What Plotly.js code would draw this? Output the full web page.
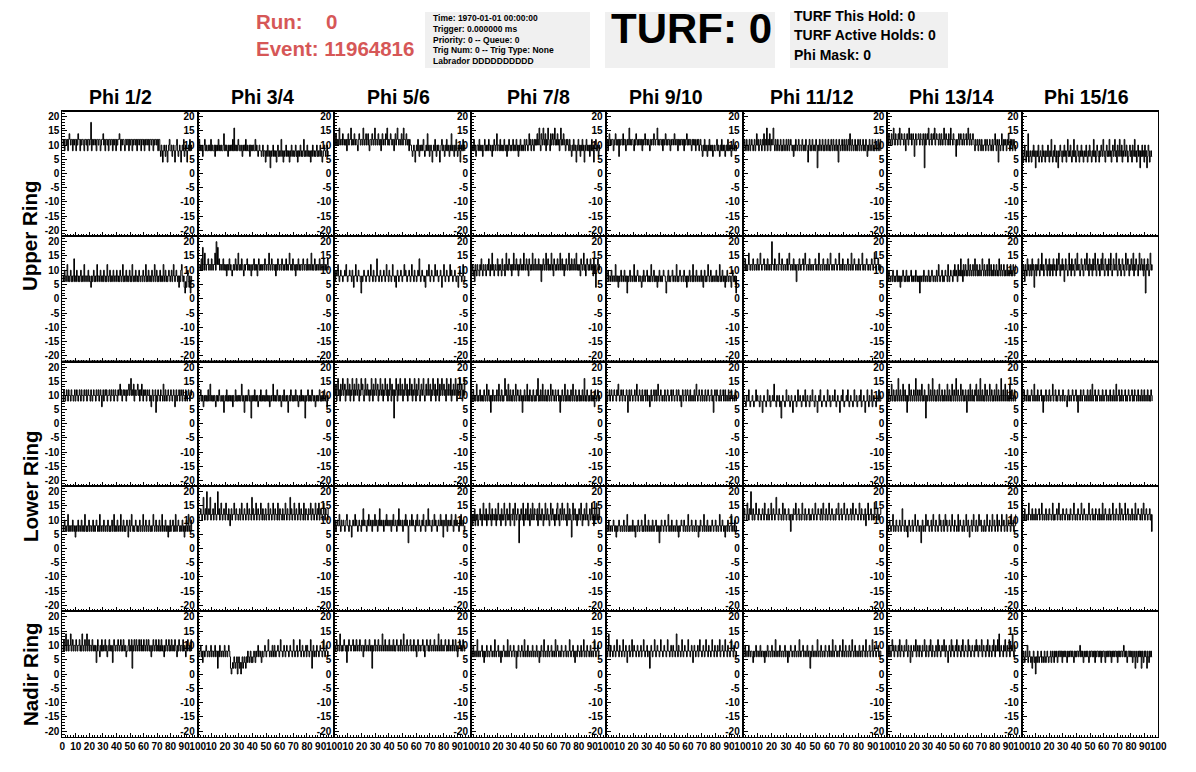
<!DOCTYPE html>
<html>
<head>
<meta charset="utf-8">
<script src="https://cdn.plot.ly/plotly-3.0.1.min.js"></script>
<style>
  html, body { margin: 0; padding: 0; background: #ffffff; }
  #display { width: 1196px; height: 772px; }
</style>
</head>
<body>
<div id="display"></div>
<script>
// Trigger-rate waveforms per phi sector: 192 samples per panel, two samples per x unit.
const phiLabels = ["Phi 1/2", "Phi 3/4", "Phi 5/6", "Phi 7/8", "Phi 9/10", "Phi 11/12", "Phi 13/14", "Phi 15/16"];
const ringLabels = ["Upper Ring", "Lower Ring", "Nadir Ring"];

const upperRingA = [
  [12,10,12,8,12,12,10,12,8,12,14,12,10,12,12,8, 12,10,12,12,8,12,10,14,12,12,8,12,10,12,12,10, 8,12,12,10,12,8,12,12,10,12,18,8,12,10,12,12, 10,12,8,12,12,10,12,12,8,10,12,12,14,10,12,8, 12,12,10,12,8,12,12,10,12,12,8,12,10,12,12,8, 12,10,12,12,14,12,8,12,10,12,12,10,8,12,12,10, 12,12,8,12,10,12,12,8,12,10,12,12,10,12,8,12, 12,10,12,12,8,12,12,10,12,8,12,10,12,12,10,12, 8,12,12,10,12,12,8,12,10,12,12,10,12,8,12,12, 8,6,10,8,4,8,10,8,6,10,8,4,8,10,12,8, 8,10,6,8,10,8,4,8,10,12,8,6,8,10,8,4, 8,10,8,12,6,8,10,8,4,8,10,8,12,8,10,8],
  [10,8,12,8,10,8,10,6,8,10,12,8,10,8,8,10, 8,10,8,12,8,10,8,8,10,6,10,8,10,8,12,8, 10,8,10,8,8,10,14,8,10,8,10,8,6,10,8,10, 8,10,8,12,8,16,8,10,8,10,8,12,10,8,8,10, 8,6,10,8,10,8,12,8,10,8,8,10,6,10,8,10, 8,10,8,8,12,8,10,8,6,8,10,8,8,6,8,10, 6,8,8,4,8,6,10,8,6,8,2,8,6,8,10,6, 8,6,8,4,8,10,6,8,6,8,12,6,8,4,8,6, 8,10,6,8,6,8,4,8,6,10,8,6,8,6,8,10, 6,8,4,8,6,8,10,6,8,6,8,12,6,8,6,8, 10,6,8,6,8,4,8,6,10,8,6,8,6,8,10,6, 8,6,8,10,6,8,4,6,8,10,8,6,8,10,6,8],
  [12,10,14,10,12,10,12,16,10,12,12,10,14,12,10,12, 10,12,8,12,14,10,12,12,16,10,12,10,12,14,10,12, 12,10,8,12,14,12,10,12,12,10,16,12,10,12,14,10, 12,14,10,8,12,12,10,14,12,10,12,16,10,12,12,10, 14,12,10,12,8,12,14,10,12,12,10,14,12,16,10,12, 10,12,14,12,10,12,12,8,12,14,10,12,16,12,10,12, 12,10,14,12,10,16,12,12,10,14,12,10,12,8,12,10, 10,8,6,8,10,8,4,8,10,8,12,8,6,10,8,10, 8,10,12,8,6,8,10,8,14,8,10,6,8,10,8,4, 8,10,8,12,8,6,10,8,10,8,4,8,10,12,8,10, 8,6,10,8,12,8,10,8,6,10,8,14,8,10,8,6, 10,8,12,8,6,10,8,10,4,8,10,8,12,8,10,8],
  [10,8,10,8,12,8,10,6,8,10,10,8,12,8,10,8, 10,6,8,10,12,8,10,8,10,8,12,10,8,10,8,6, 10,8,12,10,8,10,14,8,10,10,8,12,8,10,8,10, 8,12,10,8,10,6,10,8,12,10,8,10,8,10,12,8, 10,8,10,12,8,10,6,10,8,12,10,8,10,8,10,12, 8,10,12,10,8,10,14,10,12,8,10,12,10,8,12,10, 12,10,14,10,12,16,10,8,14,12,10,16,12,10,14,8, 12,10,16,12,10,8,14,10,12,14,10,12,16,10,12,10, 14,10,12,8,12,16,10,12,10,14,12,10,8,12,10,12, 10,8,12,10,8,6,10,8,12,10,8,10,4,8,10,12, 8,10,6,10,8,12,8,10,4,8,10,12,8,10,8,10, 6,10,8,12,8,10,4,8,10,12,8,10,8,6,10,8],
  [12,10,12,8,12,14,10,12,10,12,12,8,10,12,14,10, 12,10,12,6,12,10,12,12,10,14,10,12,12,8,10,12, 10,12,16,10,12,10,12,12,10,8,12,10,14,12,10,12, 10,12,12,10,12,8,12,10,12,14,10,12,12,10,12,10, 8,12,10,12,12,10,14,12,10,12,12,16,10,12,10,12, 12,10,12,8,12,10,12,14,10,12,10,12,12,10,8,12, 10,12,12,10,14,12,10,12,12,8,12,10,12,10,12,12, 10,12,8,12,10,12,14,10,12,10,12,12,10,8,12,10, 12,10,12,8,10,12,10,12,8,10,12,10,8,6,10,8, 12,8,10,8,6,10,8,12,8,10,8,10,6,8,10,8, 8,10,12,8,10,8,6,10,8,12,8,10,8,10,6,8, 10,8,12,8,10,8,10,6,8,10,12,8,10,8,8,10],
  [10,8,12,10,8,12,10,8,10,12,8,10,12,10,8,10, 12,8,10,14,10,12,8,10,12,10,8,12,10,14,8,12, 10,16,8,12,10,14,8,12,10,12,16,10,8,12,10,8, 12,10,8,10,12,8,10,8,12,10,8,10,12,8,10,12, 8,10,12,10,8,10,6,10,8,12,10,8,10,12,8,10, 10,8,12,10,8,10,8,12,10,8,4,10,12,8,10,8, 12,10,8,10,8,12,10,2,10,8,12,10,8,10,12,8, 10,8,12,10,8,10,12,8,10,8,12,10,8,12,10,8, 10,12,8,10,4,12,10,8,10,12,8,10,12,8,10,12, 8,10,12,8,14,10,8,12,10,8,10,12,8,10,8,12, 10,8,12,10,8,10,12,8,10,8,12,10,6,10,8,12, 10,8,10,12,8,10,8,12,10,8,10,12,8,10,12,8],
  [12,10,14,12,10,12,14,10,12,16,12,10,14,12,12,10, 14,12,16,10,12,14,12,12,10,14,12,8,12,14,12,10, 16,12,12,14,10,12,14,12,6,12,14,10,12,12,14,12, 10,14,12,12,10,14,12,2,14,10,12,14,12,16,10,12, 12,14,10,12,14,12,16,10,12,14,12,12,10,14,12,10, 14,12,10,12,16,12,10,14,12,12,10,14,12,10,16,12, 12,10,14,12,12,10,6,12,10,12,14,10,12,14,12,10, 12,14,10,12,12,14,10,12,16,12,10,14,12,10,12,14, 12,10,8,12,10,10,12,8,10,12,10,8,12,10,8,10, 10,12,8,10,12,10,8,10,12,10,8,10,12,8,10,12, 14,10,8,12,10,4,12,10,8,10,14,10,8,12,10,12, 10,8,12,10,14,10,8,12,10,12,8,10,12,10,8,10],
  [6,8,4,6,10,6,4,8,6,14,4,6,8,6,4,8, 6,10,6,8,2,6,8,6,10,4,6,8,6,4,10,6, 8,6,4,8,6,6,10,6,4,8,6,12,6,4,8,6, 10,6,4,8,6,2,8,6,10,8,6,4,8,6,10,6, 8,4,8,12,6,8,6,10,6,4,8,6,12,6,8,4, 6,10,8,6,4,8,6,10,6,8,4,6,8,6,10,6, 4,8,6,10,8,6,4,8,6,12,6,8,4,6,10,8, 6,4,8,6,10,8,6,12,8,6,4,8,10,6,8,6, 12,6,8,4,8,10,6,8,12,6,8,4,10,8,6,12, 8,6,10,4,8,6,12,8,6,10,8,4,6,8,10,6, 8,4,10,8,6,12,6,8,4,8,10,6,8,2,8,6, 10,6,8,4,10,6,8,2,6,10,8,4,6,8,6,6]
];

const upperRingB = [
  [6,8,6,10,8,6,8,12,6,8,6,8,10,6,8,6, 8,14,6,8,6,10,8,6,8,6,8,10,6,8,6,8, 12,6,8,8,6,8,10,6,8,6,4,8,6,8,10,6, 8,6,8,12,6,8,8,6,10,8,6,8,6,10,8,6, 8,6,12,8,6,8,10,6,8,6,8,10,6,8,8,6, 10,8,6,8,6,10,8,6,8,12,6,8,6,8,10,6, 8,6,8,10,6,8,6,12,8,6,8,6,10,8,6,8, 6,10,8,6,8,8,6,10,8,6,8,12,6,8,6,10, 8,6,8,6,10,8,6,8,12,6,8,10,6,8,6,8, 10,6,8,6,8,12,6,8,10,6,8,6,8,10,8,6, 8,10,6,8,12,8,6,8,10,8,6,8,4,8,6,10, 12,8,6,8,4,2,6,4,8,10,6,4,8,2,6,8],
  [12,10,12,12,10,14,10,18,12,10,16,12,10,12,12,14, 10,12,12,10,14,12,10,12,12,16,10,20,12,18,12,14, 10,12,12,10,12,14,10,12,10,12,8,12,10,12,14,10, 12,10,8,10,12,10,12,14,10,12,10,16,12,10,12,10, 14,12,10,8,12,10,12,12,14,10,12,10,12,10,8,12, 10,12,14,10,12,10,12,8,12,14,10,12,10,12,10,12, 12,10,14,12,10,12,12,10,16,12,10,12,14,10,12,12, 10,12,8,12,10,14,12,10,12,12,10,14,12,10,12,10, 12,14,10,12,10,12,16,12,10,12,10,14,12,10,12,8, 12,10,12,14,10,12,10,12,12,10,14,12,10,12,12,10, 14,10,12,12,10,12,16,10,12,10,12,14,10,12,10,12, 12,10,14,12,10,12,12,10,14,12,10,12,10,12,14,10],
  [8,6,10,8,8,12,8,6,8,10,8,8,6,8,8,10, 8,12,8,6,8,8,10,8,8,6,10,8,4,8,8,12, 8,6,8,10,8,8,6,2,8,6,8,10,8,8,6,8, 8,10,8,6,8,12,8,8,6,10,8,8,6,8,14,8, 8,6,8,10,8,6,8,8,10,8,6,8,12,8,8,6, 10,8,8,6,8,12,8,8,6,8,4,8,10,8,6,8, 8,10,8,6,8,8,12,8,10,8,6,8,8,10,8,6, 8,12,8,8,6,10,8,8,6,8,10,8,14,8,6,8, 10,8,8,6,8,4,8,10,8,8,12,8,6,8,10,8, 8,6,8,12,8,8,10,8,6,8,8,10,8,4,8,8, 12,8,6,8,10,8,8,6,8,12,8,10,8,6,8,8, 10,8,6,8,8,4,8,10,8,8,6,8,12,8,6,8],
  [8,10,12,8,10,6,12,10,8,12,10,10,8,12,10,14, 10,8,12,10,10,12,8,10,12,10,14,10,8,12,10,16, 10,12,8,10,12,10,10,14,8,12,10,12,10,8,14,10, 10,12,8,12,16,10,12,10,14,12,10,12,8,12,10,16, 12,10,12,14,10,12,8,12,10,14,12,10,12,10,16,12, 10,12,14,10,12,8,14,12,10,12,10,16,12,10,12,14, 10,12,12,10,14,12,10,12,6,12,10,14,12,10,12,16, 10,12,14,10,12,10,12,16,10,12,8,14,12,10,12,10, 14,12,10,12,16,10,12,14,10,12,8,12,10,14,12,10, 12,16,10,12,10,14,12,10,12,14,10,12,16,10,12,10, 12,10,8,14,12,10,12,16,10,12,8,10,14,12,10,12, 10,14,12,10,12,8,14,10,12,4,10,12,14,10,12,10],
  [8,6,8,10,6,8,8,6,10,8,6,8,8,6,12,8, 6,8,4,8,6,8,10,6,8,8,6,10,8,6,8,2, 8,6,8,10,6,8,8,6,8,12,6,8,6,8,10,8, 6,8,8,6,4,8,6,10,8,6,8,8,10,6,8,6, 8,6,12,8,6,8,10,6,8,6,8,4,8,6,10,8, 6,8,6,8,10,8,8,6,2,6,8,10,6,8,6,8, 8,10,6,8,8,6,8,12,6,8,6,8,10,8,6,8, 8,6,10,8,6,8,4,8,6,8,10,6,8,8,6,12, 6,8,8,6,10,8,6,8,8,6,8,10,6,8,4,8, 10,6,8,6,8,12,8,6,8,10,6,8,6,8,8,6, 8,10,6,8,6,8,12,6,8,6,10,8,6,8,4,8, 6,10,8,6,8,8,6,4,8,10,6,8,6,8,2,8],
  [12,10,12,14,10,12,10,12,16,12,10,12,12,10,14,12, 10,12,12,10,14,12,10,12,16,12,10,12,12,14,10,12, 12,10,14,12,10,12,12,10,20,12,12,10,14,12,10,12, 12,10,16,12,12,10,14,12,10,12,12,10,12,14,10,12, 16,12,10,12,12,10,14,12,10,12,6,12,12,10,14,12, 10,12,12,14,10,12,16,12,10,12,12,10,14,12,10,12, 12,10,12,12,14,10,12,12,10,16,12,10,12,12,10,14, 12,10,12,12,10,14,12,10,12,16,12,10,12,12,10,12, 14,12,10,12,12,16,10,12,12,10,14,12,10,12,12,10, 12,14,10,12,12,10,16,12,10,12,14,12,10,12,12,10, 14,12,10,12,12,16,10,12,12,10,12,14,12,10,12,12, 10,12,14,12,10,12,16,12,10,12,12,14,10,12,10,12],
  [8,6,10,8,6,8,8,6,10,8,6,8,6,8,10,6, 8,6,8,4,8,6,8,10,8,6,8,6,10,8,6,8, 6,8,8,10,6,8,6,8,8,6,10,8,6,8,6,8, 2,8,6,8,8,6,10,8,6,8,8,6,8,10,6,8, 6,8,10,8,6,8,8,6,8,10,6,8,12,8,6,8, 8,10,6,8,6,8,10,8,8,6,12,8,6,8,10,8, 8,6,10,8,12,8,10,8,6,12,8,10,8,14,8,10, 6,12,8,10,12,8,10,8,14,10,8,12,10,8,10,12, 8,10,14,8,10,12,8,10,8,12,10,8,10,14,10,8, 12,10,8,10,12,8,10,14,8,10,12,8,10,8,12,10, 8,10,12,8,10,8,14,10,8,12,10,8,10,12,8,10, 8,10,12,8,10,8,10,12,8,10,8,12,10,8,10,12],
  [10,8,12,10,6,12,10,8,14,10,12,8,10,12,8,14, 10,12,4,10,12,8,12,10,14,10,8,12,10,16,10,12, 8,10,12,14,10,8,12,10,14,8,12,10,12,8,14,10, 12,10,8,14,10,12,16,10,8,12,10,14,10,12,6,10, 14,12,10,8,12,16,10,12,8,14,10,12,10,8,14,12, 10,16,10,12,12,8,10,14,12,10,8,12,14,10,12,16, 10,12,8,14,12,10,12,8,14,10,12,16,10,8,12,14, 10,12,8,12,14,10,16,12,10,8,14,12,10,12,8,14, 12,10,16,12,8,10,14,12,10,12,16,10,8,12,14,10, 12,8,10,14,12,10,8,12,16,10,12,14,10,8,12,10, 14,12,10,16,8,12,10,14,12,10,8,12,16,10,12,14, 10,12,8,14,10,2,12,10,14,12,8,10,16,12,10,12]
];

const lowerRingA = [
  [10,8,12,10,8,10,12,10,8,12,10,10,8,12,10,10, 8,10,12,8,10,12,10,8,10,12,10,8,12,10,10,8, 12,10,10,12,8,10,12,10,10,8,12,10,8,10,12,10, 10,8,12,10,10,12,8,10,12,10,6,10,12,8,10,12, 10,12,8,10,10,12,10,8,12,10,10,12,8,10,12,10, 10,8,12,10,12,14,10,12,8,10,12,10,12,10,8,12, 10,12,14,10,12,16,10,12,10,14,8,12,10,10,12,14, 10,12,8,12,10,14,10,8,12,10,12,10,8,12,10,10, 12,8,10,6,10,12,8,10,10,12,4,10,8,12,10,10, 8,12,10,10,8,14,10,8,12,10,8,10,12,10,8,10, 12,10,8,10,12,10,6,10,12,8,10,10,12,8,10,12, 10,8,12,10,10,8,12,10,8,10,12,10,8,10,12,10],
  [10,8,8,10,12,8,10,8,6,10,8,10,8,10,8,12, 8,10,14,8,10,8,10,8,10,8,6,10,8,10,8,12, 10,8,8,10,8,10,4,8,10,8,12,8,10,8,10,8, 10,8,10,6,10,8,8,12,8,10,8,10,8,10,8,10, 14,8,10,8,4,10,8,10,8,10,12,8,10,8,2,10, 8,10,8,12,8,10,8,10,6,8,10,8,12,8,10,8, 10,8,10,8,12,8,10,8,10,6,8,10,8,10,14,8, 10,8,10,8,12,10,8,10,8,10,6,8,10,8,12,8, 8,10,8,10,4,8,10,8,12,10,8,10,8,10,8,12, 10,8,10,6,8,10,8,12,8,10,8,10,8,2,10,8, 10,12,8,10,8,10,8,12,10,8,10,8,6,10,8,10, 8,10,12,8,10,8,10,8,10,12,8,10,8,6,10,8],
  [12,10,14,8,12,16,10,12,8,14,10,12,16,10,12,14, 8,12,10,16,12,10,14,8,12,10,16,12,8,14,10,12, 16,10,12,14,8,12,10,16,12,14,10,8,12,16,10,12, 14,10,12,8,12,10,16,12,8,14,10,12,16,10,12,14, 8,12,10,16,12,10,14,8,12,10,16,12,10,14,8,12, 10,16,12,8,14,10,12,2,12,10,16,12,8,14,10,12, 16,10,12,14,8,12,10,16,12,10,14,8,12,10,16,12, 10,14,8,12,10,16,12,8,14,10,12,16,10,8,12,14, 10,12,16,10,8,12,14,10,12,16,10,12,14,8,12,10, 16,12,10,14,8,12,10,16,12,8,14,10,12,16,10,12, 14,10,12,8,16,12,10,14,12,10,16,8,12,10,14,12, 10,16,12,8,14,10,12,16,10,12,14,8,12,10,16,10],
  [10,8,10,12,8,10,8,10,14,8,10,8,10,12,8,10, 8,10,8,12,10,8,10,14,8,10,12,8,10,4,10,8, 12,10,8,10,10,8,12,10,8,14,10,8,10,12,8,10, 8,10,16,10,12,8,10,14,8,10,12,8,10,8,12,10, 8,10,14,8,10,12,10,8,10,12,8,10,4,10,8,12, 10,8,10,14,8,10,8,12,10,8,10,8,12,10,8,10, 8,12,10,16,8,10,8,12,10,8,14,10,8,10,12,8, 10,8,12,10,8,10,14,8,10,12,10,8,10,12,8,10, 10,12,8,10,4,10,8,12,10,8,10,14,8,10,8,12, 10,8,10,8,12,10,8,14,10,8,10,12,8,10,8,10, 12,8,10,8,10,12,8,10,16,8,10,8,12,10,8,10, 8,10,12,8,10,8,10,6,12,10,8,10,12,8,10,8],
  [10,12,8,10,10,12,8,10,12,10,8,10,12,10,10,8, 12,10,14,10,8,10,12,10,8,12,10,10,8,10,12,10, 4,10,12,8,10,12,10,8,10,10,12,8,10,14,10,8, 10,12,10,8,10,12,8,10,10,12,8,10,12,8,10,10, 6,10,12,8,10,10,12,8,10,12,8,10,14,10,8,10, 12,10,8,10,10,8,12,10,8,10,12,10,8,10,10,12, 8,10,12,10,8,10,10,12,8,10,12,10,8,10,6,10, 12,8,10,10,12,8,10,12,10,8,10,12,8,10,10,8, 10,12,8,10,14,10,8,10,12,10,8,10,12,8,10,10, 8,12,10,8,10,12,10,8,10,10,12,8,10,4,10,12, 10,8,12,10,10,8,10,12,8,10,10,12,8,10,12,8, 10,10,8,12,10,8,10,12,10,8,10,10,8,12,10,8],
  [8,10,8,8,6,10,8,8,12,8,6,8,8,10,8,6, 8,8,12,8,10,8,8,6,10,8,8,4,8,10,8,8, 6,8,12,8,8,10,6,8,8,10,8,14,8,8,6,10, 8,8,10,6,8,2,8,10,8,8,6,8,12,8,8,10, 8,6,8,10,8,4,8,8,10,8,6,8,12,8,8,10, 8,6,8,10,8,8,12,6,8,10,8,8,6,10,8,8, 12,8,8,6,10,8,8,4,8,10,8,12,8,6,8,8, 10,8,8,6,8,12,8,8,10,6,8,8,10,8,8,12, 8,6,8,10,8,8,4,8,10,8,12,8,6,8,8,10, 8,12,8,6,8,10,8,8,6,8,12,8,8,10,6,8, 8,10,8,12,6,8,8,10,8,4,8,8,12,8,6,10, 8,8,12,6,8,10,8,8,6,10,8,8,12,8,8,10],
  [10,8,12,10,8,10,14,8,10,12,8,10,8,12,10,8, 16,10,8,12,10,8,10,14,8,10,12,8,10,4,10,8, 14,10,8,12,10,8,10,12,8,10,16,8,10,12,8,10, 12,8,10,14,8,10,8,12,10,2,10,8,10,14,8,10, 12,8,10,16,8,10,12,8,10,8,12,10,8,14,10,8, 10,12,8,10,8,12,10,8,10,14,8,10,12,8,10,8, 14,10,8,12,10,8,16,10,8,12,10,8,10,14,8,10, 12,8,10,8,12,10,4,10,12,8,10,14,8,10,12,8, 10,8,12,10,14,8,10,12,8,10,16,8,10,12,8,10, 8,14,10,8,12,10,8,10,14,8,10,12,8,10,8,12, 10,8,14,10,8,12,10,8,10,16,8,10,12,8,10,14, 8,10,12,8,10,8,14,10,8,12,10,8,10,12,8,10],
  [10,8,10,12,8,10,10,8,12,10,8,10,8,10,12,10, 8,10,14,8,10,10,8,12,10,8,10,10,12,8,10,4, 10,8,10,12,8,10,10,8,12,10,8,10,10,14,8,10, 10,12,8,10,8,10,12,10,8,10,10,8,12,10,8,10, 10,8,6,10,12,8,10,10,8,10,12,10,8,10,10,12, 8,10,4,10,10,8,12,10,8,10,12,10,8,10,10,8, 12,10,8,10,12,8,10,14,8,10,10,12,8,10,8,10, 12,10,8,10,10,8,12,10,8,10,10,12,8,10,10,8, 10,12,8,10,10,8,12,10,8,10,14,8,10,10,12,8, 10,8,12,10,8,10,10,12,8,10,8,10,12,10,8,10, 10,12,8,10,8,12,10,10,8,10,12,8,10,10,8,12, 10,8,10,12,8,10,10,8,12,10,8,10,8,12,10,8]
];

const lowerRingB = [
  [8,6,8,10,6,8,6,8,12,6,8,6,8,8,6,10, 8,6,8,4,8,6,8,10,6,8,8,6,10,8,6,8, 6,12,8,6,8,6,8,10,6,8,8,6,8,10,6,8, 6,8,10,8,6,8,6,12,8,6,8,8,6,10,8,6, 8,8,6,10,8,6,8,6,8,10,6,8,12,6,8,6, 8,10,6,8,8,6,12,8,6,8,10,6,8,6,8,10, 8,4,8,10,6,8,12,8,6,8,6,8,10,8,6,8, 6,8,10,6,8,8,6,12,8,6,8,10,6,8,8,6, 10,8,6,8,6,8,12,8,6,8,10,6,8,8,6,10, 8,6,8,12,6,8,8,6,10,8,6,8,4,8,6,10, 6,8,8,10,6,8,6,12,8,6,8,10,8,6,8,6, 8,10,6,8,4,8,6,10,8,6,12,8,6,8,10,6],
  [12,10,12,12,14,12,10,12,18,12,10,14,12,20,10,12, 14,12,18,10,12,12,14,10,12,16,12,10,12,20,12,14, 10,12,16,12,10,12,14,12,10,16,12,12,10,14,12,8, 12,14,10,12,12,16,12,10,14,12,12,10,12,14,10,12, 16,12,10,12,14,12,10,12,16,12,10,14,12,12,10,18, 12,14,10,12,12,16,10,12,14,12,10,12,16,12,10,14, 12,10,12,14,10,12,12,16,10,12,14,12,10,12,16,12, 10,14,12,12,10,16,12,10,14,12,12,10,14,12,10,12, 16,12,10,14,12,12,10,18,12,14,10,12,12,16,10,12, 14,12,10,12,16,12,10,14,12,12,10,16,12,10,14,12, 12,10,14,12,12,16,10,12,14,12,10,12,16,12,10,14, 12,16,10,12,14,12,10,12,16,12,10,14,12,12,10,14],
  [8,10,6,8,10,8,8,12,8,6,10,8,8,10,8,6, 8,10,12,8,8,6,10,8,8,4,8,10,8,8,12,8, 10,8,6,8,10,8,8,6,10,8,14,8,10,8,8,6, 10,8,12,8,8,10,8,6,10,8,8,12,8,10,8,6, 10,8,14,8,10,8,8,10,6,8,10,8,12,8,10,8, 8,10,8,6,10,8,12,8,8,10,8,6,10,8,14,8, 10,8,8,10,6,8,10,8,12,8,10,8,2,8,10,8, 8,12,8,10,8,8,6,10,8,12,8,8,10,8,6,8, 10,8,12,8,8,6,10,8,8,14,8,10,8,8,6,10, 8,8,12,8,10,8,6,8,10,8,8,12,8,10,8,4, 10,8,8,12,8,6,10,8,8,10,8,12,8,8,6,10, 8,12,8,10,8,8,6,10,8,12,8,8,10,8,6,8],
  [10,12,8,12,10,14,8,12,10,12,8,10,12,14,10,12, 8,12,16,10,12,10,14,8,12,10,12,16,10,12,8,14, 10,12,12,10,14,8,12,10,16,12,10,12,8,14,10,12, 10,16,12,8,12,14,10,12,10,16,8,12,12,10,14,12, 8,16,12,10,12,14,10,2,12,10,14,12,10,16,8,12, 10,14,12,10,16,10,12,8,14,12,10,16,12,10,14,12, 12,10,14,8,12,16,10,12,10,14,12,8,12,10,16,12, 10,14,12,10,8,12,16,10,12,14,10,12,8,12,10,14, 16,10,12,8,14,12,10,16,12,10,14,12,10,12,8,16, 12,10,14,12,10,4,12,16,10,12,14,10,12,8,12,10, 14,12,10,16,12,8,12,10,14,12,10,16,12,10,8,12, 14,10,12,16,10,12,8,14,12,10,16,12,10,12,14,10],
  [6,8,8,6,10,8,6,8,8,6,8,10,8,6,8,4, 8,6,8,10,8,6,8,8,6,8,10,6,8,8,6,12, 8,6,8,6,8,8,6,10,8,6,8,4,8,8,6,10, 8,6,8,8,10,6,8,6,8,12,6,8,8,6,10,8, 6,8,8,6,10,8,6,8,8,10,6,8,6,8,2,8, 6,10,8,8,6,8,10,8,6,8,8,12,6,8,8,6, 10,8,6,8,8,6,8,10,6,8,4,8,6,8,10,8, 8,6,10,8,6,8,8,6,12,8,6,8,8,10,6,8, 8,6,8,10,6,8,8,4,8,6,10,8,8,6,8,12, 6,8,8,6,10,8,6,8,8,6,8,10,8,6,8,8, 10,6,8,8,6,8,12,8,6,8,10,8,6,8,4,8, 8,6,10,8,6,8,8,12,6,8,8,6,10,8,6,8],
  [12,10,14,12,12,10,16,12,10,14,12,20,12,10,14,12, 10,12,16,12,12,10,14,12,12,10,12,14,12,10,16,12, 12,10,12,14,10,12,12,16,10,12,14,12,10,12,18,12, 12,10,14,12,12,10,12,16,10,12,14,12,10,12,12,14, 10,12,6,12,12,10,14,12,12,16,10,12,12,14,10,12, 12,10,16,12,12,10,14,12,10,12,12,14,10,12,10,12, 14,12,10,12,16,12,10,12,14,12,12,10,14,12,10,16, 12,12,10,14,12,10,12,16,12,10,12,14,12,10,12,12, 10,14,12,12,16,10,12,12,14,10,12,12,16,12,10,12, 14,12,10,12,12,14,10,12,16,12,10,12,14,12,12,10, 12,16,12,10,14,12,12,10,12,14,8,12,12,16,10,12, 12,14,10,12,12,10,16,12,12,10,14,12,10,12,12,14],
  [8,6,8,10,8,6,8,8,12,6,8,8,6,10,8,8, 6,8,10,8,6,8,14,8,8,6,10,8,6,8,4,8, 10,8,6,8,8,10,6,8,8,12,8,6,8,10,8,6, 8,8,2,8,10,6,8,8,6,12,8,8,10,8,6,8, 8,10,6,8,12,8,8,6,10,8,8,6,8,12,8,10, 6,8,8,10,6,8,12,8,10,6,8,8,10,8,6,8, 12,8,8,6,10,8,8,6,8,12,6,8,10,8,8,6, 8,10,6,8,8,12,8,6,10,8,4,8,8,10,6,8, 12,8,8,6,10,8,6,8,12,8,8,10,6,8,8,6, 10,8,6,8,12,8,8,6,10,8,8,6,12,8,8,10, 6,8,8,12,6,8,10,8,8,6,12,8,8,10,6,8, 8,12,6,8,10,8,8,6,12,8,8,10,6,8,8,12],
  [10,12,12,10,14,12,10,12,12,10,16,12,12,10,12,14, 10,12,12,10,14,12,10,12,12,14,10,12,12,16,10,12, 12,10,12,14,10,12,12,10,14,12,12,10,12,16,10,12, 10,12,12,14,10,12,16,12,10,12,12,10,14,12,12,10, 12,14,12,10,12,12,10,14,12,12,10,12,16,12,10,12, 12,10,14,12,12,10,12,16,12,10,12,14,12,10,12,12, 10,12,16,12,10,12,12,14,10,12,12,10,14,12,12,10, 12,14,10,12,12,10,16,12,10,12,14,12,10,12,12,10, 14,12,10,12,12,16,10,12,12,10,14,12,12,10,12,16, 10,12,14,12,10,12,12,16,10,12,12,14,10,12,12,10, 12,14,10,12,12,10,16,12,10,12,14,12,12,10,12,14, 10,12,16,12,10,12,14,12,10,12,12,14,10,12,6,12]
];

const nadirRing = [
  [10,8,12,8,10,14,8,10,12,8,10,10,14,8,10,12, 8,10,10,8,12,10,8,10,10,12,8,10,8,14,10,8, 10,12,8,10,14,8,10,12,8,10,10,8,12,10,8,10, 8,10,4,8,12,10,8,6,10,8,12,8,10,8,10,12, 8,10,6,8,10,12,8,10,8,10,4,8,12,10,8,10, 10,8,12,10,8,10,12,8,10,8,12,10,8,10,6,8, 8,10,12,8,10,8,12,2,10,8,12,10,8,12,10,8, 10,12,8,10,12,8,10,8,12,10,8,10,12,8,10,12, 8,10,8,6,10,8,12,10,8,10,12,8,10,8,12,8, 10,8,12,8,10,8,6,10,8,12,10,8,10,12,8,10, 8,12,10,8,10,8,12,10,8,6,10,8,12,10,8,10, 10,8,12,8,10,8,6,10,8,12,10,8,10,8,12,8],
  [8,6,8,8,10,6,8,4,8,8,6,8,10,8,6,8, 8,6,8,10,6,8,8,6,8,10,6,8,8,2,8,6, 10,8,6,8,8,6,8,10,6,8,8,6,8,10,8,6, 2,0,2,4,2,6,4,2,4,6,0,4,6,2,4,0, 4,6,2,4,6,4,2,6,4,8,6,4,6,8,4,6, 4,6,8,6,4,8,6,8,10,6,8,8,6,4,8,6, 6,8,10,8,6,8,8,12,8,6,8,8,6,10,8,6, 10,8,6,8,8,10,8,6,8,12,8,8,6,8,10,8, 6,8,10,8,8,6,8,10,8,8,6,8,12,8,6,8, 8,10,6,8,8,12,8,6,8,10,8,6,8,8,10,6, 10,8,8,6,8,12,8,2,8,10,6,8,8,6,10,8, 8,6,8,10,8,8,6,8,12,8,6,8,10,8,6,8],
  [10,8,10,12,8,10,10,8,14,10,8,10,8,10,12,10, 8,10,4,10,8,12,10,10,8,10,10,12,8,10,8,10, 12,8,10,10,8,12,10,8,10,10,6,10,8,12,10,8, 10,10,8,12,10,8,10,2,10,8,10,12,8,10,10,8, 12,10,8,10,10,8,14,10,8,10,12,8,10,10,8,10, 12,8,10,10,8,10,12,8,10,8,10,12,10,8,10,10, 8,12,10,8,10,14,8,10,10,8,12,10,8,10,10,12, 8,10,10,8,12,10,8,10,6,10,12,8,10,10,8,10, 10,12,8,10,6,8,10,12,10,8,10,8,12,10,8,10, 10,8,12,10,8,10,10,8,14,10,8,10,12,8,10,10, 8,10,12,10,8,10,8,12,10,8,10,10,8,12,10,8, 10,12,8,10,6,8,10,12,10,8,10,8,12,10,8,10],
  [8,6,8,10,6,8,8,6,8,12,6,8,8,6,8,8, 10,6,8,4,8,6,8,10,6,8,8,6,8,10,8,6, 8,8,6,12,8,6,8,8,10,6,8,8,4,8,6,8, 10,8,6,8,8,6,12,8,6,8,10,8,6,8,8,10, 6,8,8,2,8,6,10,8,8,6,8,10,8,6,8,12, 6,8,8,6,10,8,6,8,8,6,8,10,6,8,8,6, 8,10,6,8,8,4,8,6,10,8,8,6,12,8,6,8, 8,6,10,8,6,8,8,10,6,8,8,6,8,12,6,8, 10,8,6,8,8,6,10,8,8,6,8,8,10,6,8,8, 6,8,12,8,6,8,8,10,6,8,4,8,8,6,10,8, 8,6,8,10,6,8,8,12,6,8,8,6,10,8,8,6, 8,10,6,8,8,6,8,12,8,6,8,8,10,6,8,8],
  [8,10,6,8,14,8,6,10,8,8,6,8,10,8,6,8, 12,8,8,6,10,8,8,6,8,12,8,6,8,10,8,4, 8,8,10,6,8,8,12,6,8,10,8,8,6,8,10,8, 6,8,8,10,6,8,8,12,8,6,8,8,10,6,8,8, 2,8,10,8,6,8,8,12,8,6,8,10,8,8,6,8, 12,8,8,6,8,10,8,8,6,8,12,8,8,6,8,10, 8,6,10,8,8,6,8,14,8,6,10,8,8,6,8,12, 8,6,8,10,8,8,6,8,12,8,8,6,8,10,8,4, 8,10,8,6,8,8,10,6,8,12,8,8,6,8,10,8, 6,8,12,8,8,6,10,8,8,6,8,12,8,8,6,10, 8,8,6,10,8,8,12,6,8,8,10,8,6,8,12,8, 8,6,10,8,8,6,8,12,8,8,6,10,8,8,6,8],
  [8,6,8,10,6,8,8,6,10,8,6,8,8,6,4,8, 6,8,10,6,8,8,6,8,10,6,8,8,6,8,4,8, 6,8,10,6,8,8,6,8,10,6,8,8,6,12,8,6, 8,8,6,10,8,6,8,8,6,8,10,6,8,8,4,8, 6,8,10,8,6,8,8,6,10,8,6,8,8,6,12,8, 6,8,8,10,6,8,8,6,8,10,6,8,8,2,8,6, 10,8,6,8,8,6,8,12,6,8,8,6,10,8,6,8, 8,6,10,8,8,6,8,10,6,8,8,6,12,8,6,8, 10,8,6,8,8,6,10,8,8,6,12,8,6,8,10,6, 8,8,6,10,8,6,8,12,8,6,8,10,6,8,8,6, 8,10,6,8,8,6,10,8,8,6,12,8,6,8,8,10, 6,8,8,12,6,8,10,8,6,8,8,10,6,8,8,6],
  [8,10,6,10,8,6,8,12,8,10,6,8,10,8,8,6, 10,8,12,6,8,10,8,8,6,10,8,8,12,8,6,10, 8,8,4,10,8,6,8,10,8,8,12,6,8,10,8,6, 10,8,8,6,10,8,8,12,8,6,10,8,8,6,10,8, 12,8,6,10,8,8,6,8,10,8,6,12,8,10,8,6, 8,10,8,8,12,8,6,10,8,8,4,8,10,8,6,12, 8,10,8,6,8,10,8,12,6,8,10,8,8,6,10,8, 12,8,6,8,10,8,8,6,12,8,10,8,6,8,10,8, 8,6,10,8,12,8,10,6,8,10,8,8,12,6,8,10, 8,8,6,10,8,12,8,6,10,8,8,6,10,8,12,8, 6,10,8,8,12,8,14,6,8,10,8,8,6,10,8,12, 8,6,10,8,8,12,6,8,10,8,14,8,6,10,8,8],
  [6,4,8,6,4,8,6,6,10,4,6,8,6,4,6,2, 6,8,4,6,0,6,4,8,6,4,6,6,8,4,6,6, 4,8,6,4,6,8,6,4,6,6,8,4,6,8,6,4, 8,6,8,6,4,8,6,8,8,6,8,4,8,6,8,6, 8,6,4,8,6,8,6,8,8,6,8,6,4,8,6,8, 6,8,8,6,8,10,6,8,6,8,4,6,8,6,8,6, 8,6,4,8,6,8,8,6,8,6,8,4,8,6,8,8, 6,8,6,8,4,8,6,8,8,6,4,8,6,8,6,8, 8,6,8,4,8,6,8,6,8,8,6,8,4,8,6,8, 6,8,8,6,8,10,6,8,6,8,4,6,8,8,6,8, 6,8,4,6,8,6,2,8,6,4,8,6,8,6,8,2, 8,6,4,8,6,8,6,2,8,6,4,8,6,8,6,6]
];

const xTickValues = [0, 10, 20, 30, 40, 50, 60, 70, 80, 90, 100];
const xTickText = ["0", "10", "20", "30", "40", "50", "60", "70", "80", "90", "100"];
const yTickValues = [-20, -15, -10, -5, 0, 5, 10, 15, 20];
const yTickText = ["-20", "-15", "-10", "-5", "0", "5", "10", "15", "20"];

// ---- page geometry (pixels) ----
const W = 1196, H = 772;
const colEdges = [62.3, 197.7, 334.3, 471, 605.7, 742.7, 887.3, 1021.7, 1158.3];
const rowEdges = [111, 236, 361.5, 486, 611, 737];
const titleCenters = [120, 262, 398, 538, 666, 812, 951, 1086];

const panelRows = [upperRingA, upperRingB, lowerRingA, lowerRingB, nadirRing];
const fontFamily = '"Liberation Sans", Arial, Helvetica, sans-serif';
const px = v => v / W;
const py = v => 1 - v / H;

const data = [];
const layout = {
  width: W, height: H,
  margin: { l: 0, r: 0, t: 0, b: 0 },
  paper_bgcolor: '#ffffff',
  plot_bgcolor: '#ffffff',
  showlegend: false,
  hovermode: false,
  font: { family: fontFamily, color: '#000000' },
  shapes: [],
  annotations: []
};

panelRows.forEach((row, r) => {
  row.forEach((series, c) => {
    const k = r * 8 + c + 1;
    const sfx = k === 1 ? '' : String(k);
    const samplePos = series.map((_, i) => i / 2);
    data.push({
      type: 'scatter', mode: 'lines',
      x: samplePos, y: series,
      xaxis: 'x' + sfx, yaxis: 'y' + sfx,
      line: { shape: 'hv', color: '#000000', width: 1 },
      hoverinfo: 'skip'
    });
    const bottomRow = r === panelRows.length - 1;
    layout['xaxis' + sfx] = {
      domain: [px(colEdges[c]), px(colEdges[c + 1])],
      anchor: 'y' + sfx,
      range: [0, 100],
      showgrid: false, zeroline: false,
      showline: true, mirror: true, linecolor: '#000000', linewidth: 1,
      ticks: 'inside', ticklen: 4, tickwidth: 1, tickcolor: '#000000',
      tickmode: 'array',
      tickvals: c === 0 ? xTickValues : xTickValues.slice(1),
      ticktext: c === 0 ? xTickText : xTickText.slice(1),
      tickangle: 0,
      minor: { ticks: 'inside', ticklen: 2, tickmode: 'linear', tick0: 0, dtick: 2, tickcolor: '#000000' },
      showticklabels: bottomRow,
      tickfont: { family: fontFamily, size: 10, weight: 'bold', color: '#000000' },
      fixedrange: true
    };
    layout['yaxis' + sfx] = {
      domain: [py(rowEdges[r + 1]), py(rowEdges[r])],
      anchor: 'x' + sfx,
      range: [-22, 22],
      showgrid: false, zeroline: false,
      showline: true, mirror: true, linecolor: '#000000', linewidth: 1,
      ticks: 'inside', ticklen: 5, tickwidth: 1, tickcolor: '#000000',
      tickmode: 'array', tickvals: yTickValues, ticktext: yTickText,
      minor: { ticks: 'inside', ticklen: 2.5, tickmode: 'linear', tick0: 0, dtick: 1, tickcolor: '#000000' },
      tickfont: { family: fontFamily, size: 10, weight: 'bold', color: '#000000' },
      fixedrange: true
    };
  });
});

// heavier separators between the ring rows
rowEdges.slice(0, 5).forEach(yv => {
  layout.shapes.push({
    type: 'line', xref: 'paper', yref: 'paper',
    x0: px(colEdges[0]), x1: px(colEdges[8]), y0: py(yv), y1: py(yv),
    line: { color: '#000000', width: 2 }
  });
});

// header info panels
const boxes = [[425, 590], [605, 775], [790, 948]];
boxes.forEach(b => {
  layout.shapes.push({
    type: 'rect', xref: 'paper', yref: 'paper', layer: 'below',
    x0: px(b[0]), x1: px(b[1]), y0: py(68), y1: py(12),
    fillcolor: '#f0f0f0', line: { width: 0 }
  });
});

function note(text, x, y, size, opts) {
  layout.annotations.push(Object.assign({
    text: text, xref: 'paper', yref: 'paper', x: px(x), y: py(y),
    showarrow: false, xanchor: 'left', yanchor: 'middle',
    font: { family: fontFamily, size: size, weight: 'bold', color: '#000000' }
  }, opts || {}));
}

const red = '#d65757';
const redFont = { family: fontFamily, size: 20.5, weight: 'bold', color: red };
note('Run:', 254, 22, 20.5, { font: redFont });
note('0', 324, 22, 20.5, { font: redFont });
note('Event: 11964816', 254, 48, 20.5, { font: redFont });

const infoLines = ['Time: 1970-01-01 00:00:00', 'Trigger: 0.000000 ms', 'Priority: 0 -- Queue: 0',
                   'Trig Num: 0 -- Trig Type: None', 'Labrador DDDDDDDDDD'];
infoLines.forEach((t, i) => note(t, 431, 18 + i * 10.8, 8.5));

note('TURF: 0', 691, 28, 42, { xanchor: 'center' });

const turfLines = ['TURF This Hold: 0', 'TURF Active Holds: 0', 'Phi Mask: 0'];
turfLines.forEach((t, i) => note(t, 792, 16 + i * 19.5, 14));

// column headings
phiLabels.forEach((t, c) => note(t, titleCenters[c], 97, 19.5, { xanchor: 'center' }));

// ring labels along the left edge
const ringCenters = [236, 486, 674];
ringLabels.forEach((t, i) => note(t, 30, ringCenters[i], 20.5, { xanchor: 'center', textangle: -90 }));

Plotly.newPlot('display', data, layout, { staticPlot: true, displayModeBar: false });
</script>
</body>
</html>
